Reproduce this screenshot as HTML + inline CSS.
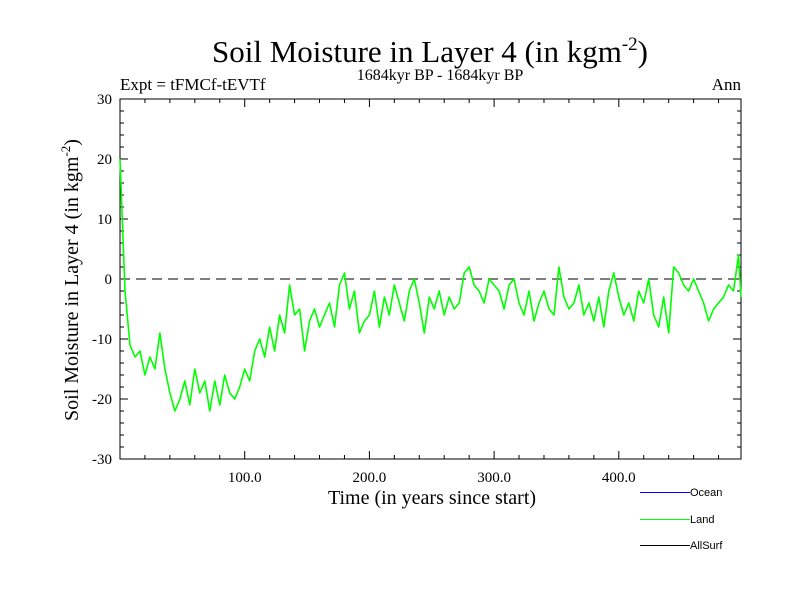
<!DOCTYPE html>
<html><head><meta charset="utf-8"><style>
body{margin:0;background:#fff;}
svg{display:block;font-family:"Liberation Serif",serif;}
</style></head><body>
<svg id="chart" width="800" height="600">
<rect width="800" height="600" fill="#fff"/>
<text x="430" y="62" font-size="31" text-anchor="middle">Soil Moisture in Layer 4 (in kgm<tspan dy="-12" font-size="19">-2</tspan><tspan dy="12">)</tspan></text>
<text x="120" y="90" font-size="17">Expt = tFMCf-tEVTf</text>
<text x="440" y="80" font-size="16" text-anchor="middle">1684kyr BP - 1684kyr BP</text>
<text x="741" y="90" font-size="17" text-anchor="end">Ann</text>
<text transform="translate(78,280) rotate(-90)" font-size="20" text-anchor="middle">Soil Moisture in Layer 4 (in kgm<tspan dy="-8" font-size="13">-2</tspan><tspan dy="8">)</tspan></text>
<text x="432" y="504" font-size="20" text-anchor="middle">Time (in years since start)</text>
<g id="axes"></g>
<g id="series"></g>
<g>
<g><rect x="640" y="492" width="50" height="1" fill="#0000ff"/><text x="690" y="496" font-family="Liberation Sans,sans-serif" font-size="11">Ocean</text></g>
<g><rect x="640" y="519" width="50" height="1" fill="#00ff00"/><text x="690" y="523" font-family="Liberation Sans,sans-serif" font-size="11">Land</text></g>
<g><rect x="640" y="545" width="50" height="1" fill="#000000"/><text x="690" y="549" font-family="Liberation Sans,sans-serif" font-size="11">AllSurf</text></g>
</g>
</svg>
<script>
const years = [];
for (let i = 0; i <= 124; i++) years.push(i * 4);
years.push(498);
const landValues = [20,-2,-11,-13,-12,-16,-13,-15,-9,-15,-19,-22,-20,-17,-21,-15,-19,-17,-22,-17,-21,-16,-19,-20,-18,-15,-17,-12,-10,-13,-8,-12,-6,-9,-1,-6,-5,-12,-7,-5,-8,-6,-4,-8,-1,1,-5,-2,-9,-7,-6,-2,-8,-3,-6,-1,-4,-7,-2,0,-4,-9,-3,-5,-2,-6,-3,-5,-4,1,2,-1,-2,-4,0,-1,-2,-5,-1,0,-4,-6,-2,-7,-4,-2,-5,-6,2,-3,-5,-4,-1,-6,-4,-7,-3,-8,-2,1,-3,-6,-4,-7,-2,-4,0,-6,-8,-3,-9,2,1,-1,-2,0,-2,-4,-7,-5,-4,-3,-1,-2,4,-3];
const xTicks = [100, 200, 300, 400];
const xTickLabels = ["100.0", "200.0", "300.0", "400.0"];
const yTicks = [-30, -20, -10, 0, 10, 20, 30];
const yTickLabels = ["-30", "-20", "-10", "0", "10", "20", "30"];

const L = 120, R = 741, T = 99, B = 459, XMAX = 498;
const xs = v => L + v / XMAX * (R - L);
const ys = v => B - (v + 30) / 60 * (B - T);
const NS = "http://www.w3.org/2000/svg";
function mk(tag, attrs, parent) {
  const e = document.createElementNS(NS, tag);
  for (const k in attrs) e.setAttribute(k, attrs[k]);
  parent.appendChild(e);
  return e;
}
const axes = document.getElementById('axes');
const frame = mk('rect', {x: L, y: T, width: R - L, height: B - T, fill: 'none', stroke: '#000', 'stroke-width': 1}, axes);


for (let v = -30; v <= 30; v += 2) {
  const major = v % 10 === 0, len = major ? 8 : 4;
  mk('line', {x1: L, x2: L + len, y1: ys(v), y2: ys(v), stroke: '#000'}, axes);
  mk('line', {x1: R, x2: R - len, y1: ys(v), y2: ys(v), stroke: '#000'}, axes);
}
yTicks.forEach((v, i) => {
  const t = mk('text', {x: L - 8, y: ys(v) + 5, 'font-size': 15, 'text-anchor': 'end'}, axes);
  t.textContent = yTickLabels[i];
  
  
});
for (let v = 20; v < XMAX; v += 20) {
  const major = v % 100 === 0, len = major ? 8 : 4;
  mk('line', {x1: xs(v), x2: xs(v), y1: B, y2: B - len, stroke: '#000'}, axes);
  mk('line', {x1: xs(v), x2: xs(v), y1: T, y2: T + len, stroke: '#000'}, axes);
}
xTicks.forEach((v, i) => {
  const t = mk('text', {x: xs(v), y: B + 23, 'font-size': 15, 'text-anchor': 'middle'}, axes);
  t.textContent = xTickLabels[i];
  
  
});
const zero = mk('line', {x1: L, x2: R, y1: ys(0), y2: ys(0), stroke: '#555', 'stroke-width': 1.5, 'stroke-dasharray': '10,6'}, axes);


const series = document.getElementById('series');
const pts = years.map((x, i) => xs(x).toFixed(1) + ',' + ys(landValues[i]).toFixed(1)).join(' ');
const line = mk('polyline', {points: pts, fill: 'none', stroke: '#00ff00', 'stroke-width': 1.6, 'stroke-linejoin': 'round'}, series);


</script>
</body></html>
